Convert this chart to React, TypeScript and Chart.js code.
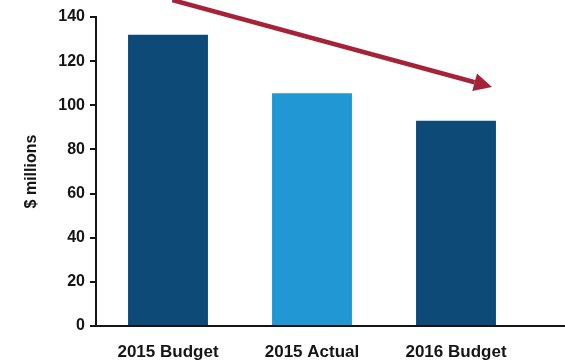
import React, { useEffect, useRef } from "react";
import { Chart, registerables } from "chart.js";

Chart.register(...registerables);

const categories = ["2015 Budget", "2015 Actual", "2016 Budget"];
const values = [132, 105.5, 93];
const barColors = ["#0e4a78", "#2198d3", "#0e4a78"];
const yTicks = [0, 20, 40, 60, 80, 100, 120, 140];
// arrow annotation endpoints in data units: [category index, value]
const arrowFrom = [0.03, 147.7];
const arrowTo = [2.25, 108.3];

const arrowPlugin = {
  id: "arrowAndBaseline",
  afterDatasetsDraw(chart: any) {
    const { ctx, scales } = chart;
    const x = scales.x;
    const y = scales.y;
    const y0 = y.getPixelForValue(0);
    ctx.save();
    ctx.strokeStyle = "#151515";
    ctx.lineWidth = 2;
    ctx.beginPath();
    ctx.moveTo(y.right - 6, y0);
    ctx.lineTo(chart.width, y0);
    ctx.stroke();
    ctx.restore();

    const x1 = x.getPixelForValue(arrowFrom[0]);
    const y1 = y.getPixelForValue(arrowFrom[1]);
    const x2 = x.getPixelForValue(arrowTo[0]);
    const y2 = y.getPixelForValue(arrowTo[1]);
    const ang = Math.atan2(y2 - y1, x2 - x1);
    const headLen = 18;
    const headW = 9;
    const bx = x2 - headLen * Math.cos(ang);
    const by = y2 - headLen * Math.sin(ang);
    ctx.save();
    ctx.strokeStyle = "#a52338";
    ctx.fillStyle = "#a52338";
    ctx.lineWidth = 4.5;
    ctx.beginPath();
    ctx.moveTo(x1, y1);
    ctx.lineTo(bx, by);
    ctx.stroke();
    ctx.beginPath();
    ctx.moveTo(x2, y2);
    ctx.lineTo(bx + headW * Math.sin(ang), by - headW * Math.cos(ang));
    ctx.lineTo(bx - headW * Math.sin(ang), by + headW * Math.cos(ang));
    ctx.closePath();
    ctx.fill();
    ctx.restore();
  },
};

export default function App() {
  const ref = useRef<HTMLCanvasElement>(null);
  useEffect(() => {
    if (!ref.current) return;
    const chart = new Chart(ref.current, {
      type: "bar",
      data: {
        labels: categories,
        datasets: [
          {
            data: values,
            backgroundColor: barColors,
            barPercentage: 0.555,
            categoryPercentage: 1,
          },
        ],
      },
      options: {
        animation: false,
        responsive: false,
        layout: { padding: { top: 17, right: 37, left: 0, bottom: 0 } },
        plugins: { legend: { display: false }, tooltip: { enabled: false } },
        scales: {
          x: {
            grid: { display: false, drawTicks: false },
            border: { display: false },
            ticks: {
              color: "#151515",
              padding: 16,
              font: { family: "Liberation Sans", size: 17, weight: "bold" },
            },
            afterFit(scale: any) {
              scale.height = 36;
            },
          },
          y: {
            min: 0,
            max: 140,
            afterBuildTicks(scale: any) {
              scale.ticks = yTicks.map((v) => ({ value: v }));
            },
            grid: {
              drawOnChartArea: false,
              drawTicks: true,
              tickLength: 6,
              color: "#151515",
              lineWidth: 2,
            },
            border: { display: true, color: "#151515", width: 2 },
            ticks: {
              color: "#151515",
              padding: 5,
              font: { family: "Liberation Sans", size: 16, weight: "bold" },
            },
            title: {
              display: true,
              text: "$ millions",
              color: "#151515",
              padding: { top: 22, bottom: 0 },
              font: { family: "Liberation Sans", size: 16, weight: "bold" },
            },
            afterFit(scale: any) {
              scale.width = 96;
            },
          },
        },
      },
      plugins: [arrowPlugin],
    });
    return () => chart.destroy();
  }, []);
  return (
    <div style={{ position: "fixed", left: 0, top: 0, width: 565, height: 362, background: "#fff" }}>
      <canvas ref={ref} width={565} height={362} style={{ display: "block" }} />
    </div>
  );
}
